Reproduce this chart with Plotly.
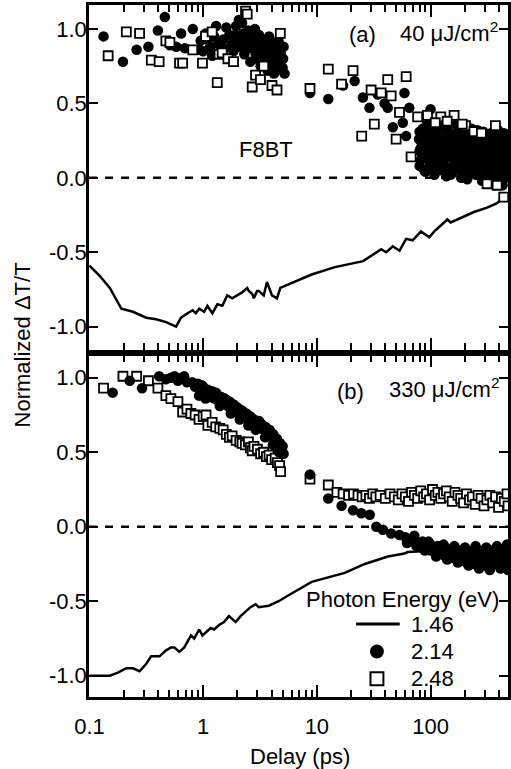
import plotly.graph_objects as go

# ---------------- data ----------------
# Panel (a): 40 uJ/cm2
a_line_t = [0.1, 0.1235, 0.151, 0.191, 0.241, 0.316, 0.386, 0.472, 0.578, 0.638, 0.73, 0.807, 0.863,
            0.923, 1.02, 1.09, 1.205, 1.333, 1.474, 1.63, 1.80, 1.99, 2.20, 2.44, 2.52, 2.70, 2.79, 2.98,
            3.08, 3.41, 3.64, 4.03, 4.46, 4.77, 9.0, 14.4, 25.5, 36.8, 40.7, 46.6, 53.3, 60.9, 69.6,
            82.3, 97.4, 107.8, 123, 140.7, 150.4, 183.9, 240.9, 314.6, 384.7, 440, 480]
a_line_v = [-0.59, -0.66, -0.74, -0.88, -0.90, -0.94, -0.95, -0.97, -1.0, -0.94, -0.91, -0.89, -0.91,
            -0.88, -0.90, -0.86, -0.91, -0.85, -0.86, -0.79, -0.81, -0.79, -0.77, -0.74, -0.76, -0.78,
            -0.81, -0.76, -0.76, -0.79, -0.70, -0.79, -0.81, -0.74, -0.65, -0.60, -0.56, -0.48, -0.50,
            -0.46, -0.49, -0.41, -0.42, -0.36, -0.40, -0.36, -0.32, -0.28, -0.30, -0.27, -0.23, -0.20,
            -0.17, -0.13, -0.11]

a_circ_t = [0.133, 0.197, 0.26, 0.33, 0.40, 0.46, 0.51, 0.58, 0.64, 0.69, 0.81, 0.92, 1.05, 1.3, 1.6, 2.06,
            0.95, 1.0, 1.1, 1.15, 1.2, 1.25, 1.35, 1.4, 1.5, 1.55, 1.65, 1.7, 1.8, 1.85, 1.95, 2.0, 2.1,
            2.2, 2.25, 2.3, 2.4, 2.5, 2.55, 2.6, 2.7, 2.8, 2.85, 2.9, 3.0, 3.1, 3.2, 3.3, 3.4, 3.5, 3.6,
            3.7, 3.8, 3.9, 4.0, 4.1, 4.2, 4.3, 4.4, 4.5, 4.6, 4.7, 4.8, 4.9, 5.0, 5.1, 5.2,
            1.9, 2.15, 2.35, 2.65, 2.95, 3.25, 3.55, 3.85, 4.15, 4.45, 4.75, 5.05,
            8.7, 12.6, 17, 21.5, 25.4, 29, 34.4, 39.4, 42, 46.6, 57, 58.9, 61, 65, 79, 82, 97, 100,
            80, 80, 80, 85, 85, 85, 90, 90, 90, 96, 96, 96, 102, 102, 102, 108, 108, 108, 115, 115, 115,
            122, 122, 122, 130, 130, 130, 138, 138, 138, 146, 146, 146, 155, 155, 155, 165, 165, 165,
            175, 175, 175, 186, 186, 186, 197, 197, 197, 210, 210, 210, 223, 223, 223, 237, 237, 237,
            251, 251, 251, 267, 267, 267, 283, 283, 283, 300, 300, 300, 319, 319, 319, 339, 339, 339,
            360, 360, 360, 382, 382, 382, 405, 405, 405, 430, 430, 430, 457, 457, 457, 480, 480, 480,
            82, 82, 88, 88, 93, 93, 99, 99, 105, 105, 112, 112, 118, 118, 126, 126, 134, 134, 142, 142,
            150, 150, 160, 160, 170, 170, 180, 180, 192, 192, 204, 204, 216, 216, 230, 230, 244, 244,
            259, 259, 275, 275, 291, 291, 310, 310, 329, 329, 350, 350, 371, 371, 393, 393, 417, 417,
            443, 443, 468, 468]
a_circ_v = [0.95, 0.78, 0.86, 0.88, 0.99, 1.08, 0.89, 0.88, 0.97, 0.87, 1.0, 0.86, 0.97, 1.02, 1.01, 1.06,
            0.92, 0.85, 0.93, 0.88, 0.82, 0.95, 0.90, 0.84, 0.93, 0.87, 0.80, 0.96, 0.90, 0.85, 1.02, 0.93,
            0.88, 1.04, 0.97, 0.83, 0.92, 0.99, 0.87, 0.78, 0.94, 0.90, 1.0, 0.83, 0.88, 0.96, 0.75, 0.85,
            0.92, 0.80, 0.88, 0.72, 0.95, 0.84, 0.78, 0.90, 0.70, 0.86, 0.80, 0.76, 0.92, 0.73, 0.84, 0.79,
            0.74, 0.88, 0.70,
            0.96, 0.91, 0.86, 0.97, 0.80, 0.93, 0.84, 0.90, 0.76, 0.82, 0.88, 0.80,
            0.57, 0.53, 0.62, 0.65, 0.54, 0.47, 0.56, 0.50, 0.47, 0.34, 0.37, 0.57, 0.28, 0.47, 0.26, 0.20,
            0.07, 0.46,
            0.31, 0.18, 0.08, 0.26, 0.14, 0.33, 0.22, 0.04, 0.29, 0.30, 0.12, 0.20, 0.25, 0.07, 0.34,
            0.18, 0.28, 0.02, 0.31, 0.10, 0.22, 0.24, 0.15, 0.05, 0.33, 0.19, 0.09, 0.27, 0.01, 0.14,
            0.22, 0.30, 0.07, 0.17, 0.26, 0.03, 0.29, 0.11, 0.20, 0.24, 0.06, 0.32, 0.15, 0.27, 0.00,
            0.21, 0.09, 0.30, 0.26, 0.13, -0.01, 0.18, 0.31, 0.05, 0.23, 0.10, 0.28, 0.14, 0.02, 0.25,
            0.29, 0.19, 0.07, 0.22, -0.02, 0.12, 0.27, 0.16, 0.04, 0.10, 0.24, -0.03, 0.30, 0.15, 0.01,
            0.20, 0.07, 0.26, 0.12, -0.04, 0.23, 0.28, 0.17, 0.03, 0.08, 0.21, -0.05, 0.25, 0.13, 0.00,
            0.18, 0.06, 0.29,
            0.12, 0.25, 0.30, 0.05, 0.16, 0.36, 0.09, 0.25, 0.20, 0.30, 0.05, 0.15, 0.27, 0.35, 0.10, 0.20,
            0.07, 0.23, 0.14, 0.34, 0.02, 0.25, 0.08, 0.20, 0.16, 0.36, 0.11, 0.22, 0.04, 0.33, 0.19, 0.07,
            0.25, 0.02, 0.15, 0.33, 0.06, 0.20, 0.32, 0.09, 0.14, 0.26, 0.05, 0.31, 0.20, 0.09, 0.02, 0.17,
            0.10, 0.22, 0.30, 0.00, 0.14, 0.32, 0.11, -0.02, 0.30, 0.17, 0.08, 0.21]

a_sq_t = [0.146, 0.211, 0.276, 0.35, 0.41, 0.47, 0.51, 0.62, 0.66, 0.81, 0.986, 1.05, 1.2, 1.33, 1.38,
          1.47, 1.65, 1.85, 2.36, 2.44, 2.70, 2.89, 3.19, 3.41, 4.03, 4.46, 4.77,
          8.7, 12.6, 16.5, 20.8, 24.8, 30, 32, 36.8, 42, 45, 49.8, 53.3, 61, 67.4, 77, 94, 123, 161, 203,
          241, 372, 314, 385, 440, 110, 140, 190, 280]
a_sq_v = [0.82, 0.98, 0.97, 0.79, 0.78, 0.92, 0.91, 0.77, 0.77, 0.86, 0.77, 0.95, 0.98, 0.64, 0.83,
          0.84, 0.80, 0.78, 1.12, 1.10, 0.61, 0.69, 0.66, 0.75, 0.62, 0.59, 0.97,
          0.60, 0.73, 0.63, 0.72, 0.28, 0.59, 0.36, 0.57, 0.66, 0.55, 0.26, 0.44, 0.68, 0.14, 0.41, 0.42,
          0.41, 0.42, 0.35, 0.31, 0.35, -0.04, -0.05, -0.13, 0.37, 0.38, 0.36, 0.30]

# Panel (b): 330 uJ/cm2
b_line_t = [0.1, 0.151, 0.178, 0.211, 0.241, 0.276, 0.316, 0.349, 0.413, 0.472, 0.522, 0.558, 0.617,
            0.682, 0.781, 0.834, 0.923, 0.986, 1.09, 1.167, 1.248, 1.379, 1.525, 1.687, 1.93, 2.135,
            2.36, 2.61, 2.89, 3.08, 3.77, 4.61, 5.64, 9.0, 17.6, 26.4, 42.1, 58.9, 63, 115, 257, 480]
b_line_v = [-1.0, -1.0, -0.98, -0.95, -0.95, -0.97, -0.92, -0.87, -0.87, -0.83, -0.81, -0.81, -0.84,
            -0.81, -0.73, -0.75, -0.69, -0.73, -0.70, -0.68, -0.69, -0.66, -0.64, -0.60, -0.64, -0.60,
            -0.57, -0.54, -0.52, -0.54, -0.53, -0.50, -0.46, -0.37, -0.31, -0.25, -0.20, -0.18, -0.17,
            -0.16, -0.14, -0.13]

b_circ_t = [0.16, 0.226, 0.29, 0.41, 0.47, 0.52, 0.56, 0.6, 0.65, 0.68, 0.72, 0.8, 0.85, 0.92, 0.97, 1.02,
            1.1, 1.15, 1.25, 1.3, 1.38, 1.45, 1.5, 1.6, 1.65, 1.75, 1.8, 1.9, 1.95, 2.05, 2.15, 2.25, 2.35,
            2.45, 2.55, 2.65, 2.75, 2.85, 3.0, 3.1, 3.25, 3.4, 3.55, 3.7, 3.85, 4.0, 4.15, 4.3, 4.45, 4.6,
            4.75, 4.9, 5.0, 5.1,
            0.9, 1.0, 1.2, 1.35, 1.55, 1.7, 1.85, 2.0, 2.2, 2.4, 2.6, 2.8, 3.05, 3.3, 3.6, 3.9, 4.2, 4.5,
            4.8, 1.05, 1.4, 1.75, 2.1, 2.5, 2.9, 3.5, 4.1, 4.65,
            8.7, 12.6, 16.5, 20.8, 24.6, 29.2, 33.3, 38.1, 45, 53.3,
            60, 66, 72, 72, 78, 85, 85, 92, 100, 100, 108, 116, 116, 125, 135, 135, 145, 156, 156, 168,
            180, 180, 194, 208, 208, 224, 240, 240, 258, 277, 277, 298, 320, 320, 344, 370, 370, 397,
            427, 427, 458, 480, 480,
            62, 69, 75, 82, 89, 96, 104, 112, 120, 130, 140, 150, 162, 174, 187, 201, 216, 232, 249, 267,
            287, 309, 332, 357, 384, 412, 442, 470, 480]
b_circ_v = [0.90, 0.98, 0.93, 1.01, 0.99, 1.0, 1.01, 0.98, 1.0, 1.01, 0.97, 0.97, 0.94, 0.88, 0.95, 0.91,
            0.92, 0.87, 0.86, 0.90, 0.84, 0.87, 0.83, 0.85, 0.81, 0.83, 0.79, 0.81, 0.77, 0.79, 0.75, 0.77,
            0.73, 0.75, 0.71, 0.73, 0.69, 0.71, 0.67, 0.71, 0.69, 0.65, 0.67, 0.63, 0.65, 0.60, 0.62, 0.58,
            0.59, 0.55, 0.56, 0.52, 0.54, 0.49,
            0.96, 0.94, 0.91, 0.88, 0.86, 0.84, 0.82, 0.80, 0.78, 0.76, 0.74, 0.72, 0.70, 0.67, 0.64, 0.61,
            0.58, 0.55, 0.51, 0.86, 0.81, 0.76, 0.72, 0.68, 0.65, 0.60, 0.55, 0.50,
            0.35, 0.19, 0.14, 0.11, 0.09, 0.08, 0.0, -0.02, -0.045, -0.056,
            -0.07, -0.09, -0.10, -0.06, -0.12, -0.14, -0.10, -0.13, -0.16, -0.12, -0.15, -0.18, -0.13,
            -0.16, -0.20, -0.14, -0.17, -0.21, -0.15, -0.19, -0.23, -0.16, -0.20, -0.24, -0.17, -0.21,
            -0.25, -0.16, -0.22, -0.26, -0.18, -0.23, -0.27, -0.17, -0.22, -0.25, -0.15, -0.21, -0.27,
            -0.17, -0.23, -0.26, -0.16,
            -0.11, -0.08, -0.13, -0.11, -0.16, -0.10, -0.14, -0.20, -0.15, -0.12, -0.22, -0.18, -0.13,
            -0.24, -0.18, -0.14, -0.26, -0.19, -0.13, -0.28, -0.20, -0.14, -0.29, -0.19, -0.13, -0.28,
            -0.20, -0.12, -0.29]

b_sq_t = [0.133, 0.197, 0.26, 0.33, 0.40, 0.47, 0.52, 0.6, 0.66, 0.72, 0.78, 0.85, 0.92, 1.0, 1.06, 1.1,
          1.2, 1.29, 1.4, 1.5, 1.6, 1.7, 1.8, 1.95, 2.1, 2.2, 2.35, 2.5, 2.6, 2.7, 2.8, 3.0, 3.2, 3.4,
          3.6, 3.8, 4.0, 4.3, 4.5, 4.7, 4.8,
          8.7, 12.6, 15, 17, 19, 21, 23, 25, 27, 29, 31, 33,
          36, 40, 44, 48, 52, 56, 60, 64, 68, 72, 77, 82, 87, 92, 98, 104, 110, 116, 123, 130, 138, 146,
          155, 164, 174, 184, 195, 207, 220, 233, 247, 262, 278, 295, 313, 332, 352, 373, 396, 420, 445,
          470, 480]
b_sq_v = [0.93, 1.01, 1.01, 0.98, 0.93, 0.88, 0.86, 0.84, 0.77, 0.79, 0.76, 0.75, 0.72, 0.74, 0.75, 0.68,
          0.70, 0.67, 0.66, 0.65, 0.62, 0.60, 0.61, 0.58, 0.57, 0.56, 0.55, 0.57, 0.53, 0.51, 0.54, 0.52,
          0.49, 0.50, 0.47, 0.48, 0.45, 0.46, 0.43, 0.41, 0.37,
          0.32, 0.28, 0.23, 0.22, 0.21, 0.22, 0.21, 0.20, 0.21, 0.19, 0.22, 0.20,
          0.21, 0.19, 0.22, 0.20, 0.18, 0.22, 0.20, 0.17, 0.23, 0.21, 0.19, 0.24, 0.20, 0.22, 0.18, 0.25,
          0.21, 0.23, 0.19, 0.22, 0.24, 0.20, 0.17, 0.23, 0.21, 0.19, 0.16, 0.22, 0.18, 0.20, 0.15, 0.21,
          0.19, 0.14, 0.18, 0.21, 0.16, 0.20, 0.13, 0.19, 0.17, 0.22, 0.14]

x_tick_vals = [0.1, 1, 10, 100]
x_tick_text = ["0.1", "1", "10", "100"]
x_minor_vals = [0.2, 0.3, 0.4, 0.5, 0.6, 0.7, 0.8, 0.9, 2, 3, 4, 5, 6, 7, 8, 9,
                20, 30, 40, 50, 60, 70, 80, 90, 200, 300, 400, 500]
y_tick_vals = [-1.0, -0.5, 0.0, 0.5, 1.0]
y_tick_text = ["-1.0", "-0.5", "0.0", "0.5", "1.0"]

legend_title = "Photon Energy (eV)"
legend_labels = ["1.46", "2.14", "2.48"]

# ---------------- figure ----------------
FONT = "Liberation Sans, Arial, sans-serif"
W, H = 511, 769
ML, MR, MT, MB = 89, 0, 5, 72
PW, PH = W - ML - MR, H - MT - MB


def px(xpix):
    return (xpix - ML) / PW


def py(ypix):
    return (H - MB - ypix) / PH


fig = go.Figure()

line_style = dict(color="black", width=2.5)
circ_marker = dict(symbol="circle", size=10.5, color="black", line=dict(width=0))
sq_marker = dict(symbol="square", size=9, color="white", line=dict(color="black", width=1.8))

# panel a (top) -> xaxis2 / yaxis2
fig.add_trace(go.Scatter(x=a_line_t, y=a_line_v, mode="lines", line=line_style,
                         xaxis="x2", yaxis="y2", showlegend=False))
fig.add_trace(go.Scatter(x=a_circ_t, y=a_circ_v, mode="markers", marker=circ_marker,
                         xaxis="x2", yaxis="y2", showlegend=False))
fig.add_trace(go.Scatter(x=a_sq_t, y=a_sq_v, mode="markers", marker=sq_marker,
                         xaxis="x2", yaxis="y2", showlegend=False))
# panel b (bottom) -> xaxis / yaxis
fig.add_trace(go.Scatter(x=b_line_t, y=b_line_v, mode="lines", line=line_style,
                         xaxis="x", yaxis="y", showlegend=False))
fig.add_trace(go.Scatter(x=b_sq_t, y=b_sq_v, mode="markers", marker=sq_marker,
                         xaxis="x", yaxis="y", showlegend=False))
fig.add_trace(go.Scatter(x=b_circ_t, y=b_circ_v, mode="markers", marker=circ_marker,
                         xaxis="x", yaxis="y", showlegend=False))

xrange = [-1.004, 2.681]
common_x = dict(type="log", range=xrange, showline=True, linecolor="black", linewidth=2.5,
                mirror="ticks", ticks="inside", ticklen=12, tickwidth=2, tickcolor="black",
                tickvals=x_tick_vals, ticktext=x_tick_text, showgrid=False, zeroline=False,
                minor=dict(tickvals=x_minor_vals, ticks="inside", ticklen=7, tickwidth=2,
                           tickcolor="black", showgrid=False),
                ticklabelstandoff=8,
                tickfont=dict(family=FONT, size=22, color="black"))
common_y = dict(showline=True, linecolor="black", linewidth=2.5, mirror="ticks", ticks="inside",
                ticklen=9, tickwidth=2, tickcolor="black", tickvals=y_tick_vals, ticktext=y_tick_text,
                showgrid=False, zeroline=False, ticklabelstandoff=-5,
                tickfont=dict(family=FONT, size=22, color="black"))

d_top0 = py(350)
d_bot1 = py(355.7)

fig.update_layout(
    width=W, height=H, autosize=False,
    margin=dict(l=ML, r=MR, t=MT, b=MB, pad=0),
    paper_bgcolor="white", plot_bgcolor="white",
    showlegend=False,
    xaxis=dict(**common_x, anchor="y", domain=[0, 1]),
    yaxis=dict(**common_y, anchor="x", domain=[0, d_bot1], range=[-1.143, 1.148]),
    xaxis2=dict(**common_x, anchor="y2", domain=[0, 1], matches="x", showticklabels=False),
    yaxis2=dict(**common_y, anchor="x2", domain=[d_top0, 1], range=[-1.157, 1.161]),
)

# zero dashed lines
for xr, yr in (("x domain", "y"), ("x2 domain", "y2")):
    fig.add_shape(type="line", xref=xr, yref=yr, x0=0, x1=1, y0=0, y1=0,
                  line=dict(color="black", width=2.5, dash="8px,8px"))

ann_font = dict(family=FONT, size=22, color="black")


def add_text(text, xp, yp, xanchor="left", yanchor="middle", angle=0):
    fig.add_annotation(text=text, xref="paper", yref="paper", x=xp, y=yp, xanchor=xanchor,
                       yanchor=yanchor, showarrow=False, font=ann_font, textangle=angle)


add_text("(a)", px(349), py(35))
add_text("40 \u03bcJ/cm<sup>2</sup>", px(400), py(32))
add_text("(b)", px(337), py(391))
add_text("330 \u03bcJ/cm<sup>2</sup>", px(389), py(388))
add_text("F8BT", px(267), py(149), xanchor="center")
add_text("Normalized \u0394T/T", px(22), py(345), xanchor="center", angle=-90)
add_text("Delay (ps)", px(302), py(756), xanchor="center")

# legend (drawn by hand)
add_text(legend_title, px(504), py(599), xanchor="right")
fig.add_shape(type="line", xref="paper", yref="paper", x0=px(358), x1=px(402), y0=py(624), y1=py(624),
              line=dict(color="black", width=3))
r = 7
fig.add_shape(type="circle", xref="paper", yref="paper", x0=px(379 - r), x1=px(379 + r),
              y0=py(651.5 + r), y1=py(651.5 - r), fillcolor="black", line=dict(width=0))
r2 = 6.5
fig.add_shape(type="rect", xref="paper", yref="paper", x0=px(379 - r2), x1=px(379 + r2),
              y0=py(678.7 + r2), y1=py(678.7 - r2), fillcolor="white", line=dict(color="black", width=2))
for lab, yy in zip(legend_labels, (624, 651.5, 678.7)):
    add_text(lab, px(411), py(yy))

fig.write_html("out.html")
